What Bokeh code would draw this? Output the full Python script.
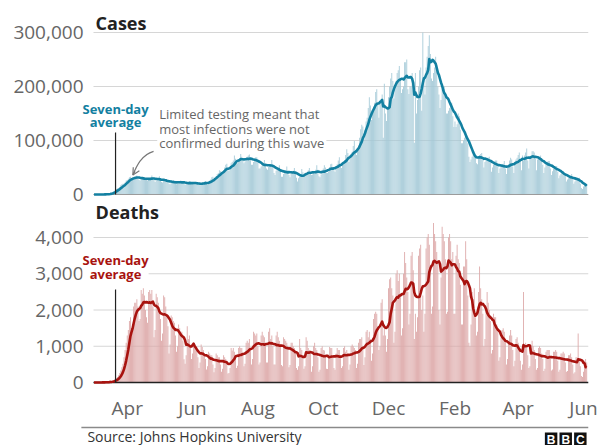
import numpy as np
import pandas as pd
from bokeh.plotting import figure
from bokeh.layouts import column
from bokeh.models import (FixedTicker, Label, Arrow, OpenHead, Range1d, ColumnDataSource)
from bokeh.embed import file_html
from bokeh.resources import INLINE
from bokeh.core.properties import value

# ---------------- DATA ----------------
start_date = "2020-03-01"

# daily reported cases (thousands), one row per week (Sun..Sat)
cases_thousands = [
    0.0, 0.0, 0.0, 0.0, 0.1, 0.1, 0.1,
    0.1, 0.2, 0.3, 0.4, 0.5, 0.7, 0.9,
    1.2, 1.8, 2.6, 4.5, 5.5, 7.0, 9.0,
    10, 11, 12, 14, 17, 19, 20,
    20, 22, 26, 27, 29, 32, 33,
    27, 30, 31, 32, 33, 35, 32,
    27, 26, 29, 30, 30, 32, 30,
    27, 26, 28, 29, 31, 35, 32,
    27, 23, 25, 28, 30, 34, 29,
    23, 22, 24, 25, 28, 28, 26,
    20, 19, 22, 21, 27, 25, 24,
    19, 21, 21, 22, 26, 24, 24,
    20, 18, 19, 19, 23, 25, 24,
    19, 19, 20, 20, 21, 23, 22,
    18, 17, 19, 21, 23, 24, 25,
    19, 18, 23, 26, 28, 32, 33,
    27, 31, 34, 38, 40, 45, 43,
    40, 42, 45, 50, 55, 57, 45,
    44, 48, 58, 60, 63, 72, 66,
    60, 58, 62, 67, 75, 70, 64,
    58, 61, 64, 70, 72, 74, 67,
    55, 55, 60, 67, 69, 69, 60,
    48, 48, 52, 54, 58, 64, 58,
    48, 46, 51, 55, 53, 64, 54,
    40, 36, 44, 46, 48, 54, 46,
    33, 33, 38, 45, 43, 52, 43,
    36, 32, 38, 42, 44, 49, 42,
    31, 24, 30, 34, 37, 47, 41,
    34, 34, 38, 40, 45, 49, 42,
    36, 37, 40, 39, 46, 54, 46,
    34, 32, 37, 45, 48, 54, 50,
    40, 40, 42, 51, 56, 57, 49,
    45, 42, 51, 56, 63, 69, 56,
    49, 57, 61, 64, 73, 84, 77,
    60, 67, 74, 79, 90, 99, 82,
    73, 85, 91, 105, 121, 129, 126,
    102, 120, 135, 142, 160, 180, 165,
    138, 154, 163, 170, 190, 195, 168,
    142, 170, 175, 185, 105, 205, 150,
    136, 158, 180, 200, 215, 225, 210,
    178, 195, 210, 225, 230, 238, 215,
    188, 195, 200, 245, 245, 250, 195,
    186, 200, 200, 225, 192, 96, 225,
    150, 175, 200, 230, 235, 155, 300,
    210, 185, 235, 255, 275, 295, 260,
    215, 210, 225, 235, 255, 240, 200,
    185, 160, 175, 195, 200, 200, 180,
    150, 150, 155, 160, 170, 170, 145,
    125, 135, 125, 130, 150, 145, 120,
    95, 95, 100, 105, 115, 110, 95,
    70, 60, 65, 70, 78, 80, 72,
    58, 56, 67, 73, 75, 77, 64,
    50, 60, 62, 68, 68, 70, 60,
    42, 50, 55, 58, 63, 63, 52,
    40, 48, 52, 56, 57, 62, 48,
    38, 50, 55, 63, 68, 65, 52,
    40, 60, 65, 68, 73, 78, 62,
    45, 72, 62, 72, 78, 85, 63,
    48, 68, 70, 80, 80, 78, 66,
    45, 65, 66, 68, 72, 65, 55,
    40, 50, 58, 60, 62, 62, 48,
    36, 43, 47, 52, 52, 53, 42,
    30, 35, 38, 40, 42, 40, 35,
    24, 28, 30, 32, 35, 38, 30,
    20, 24, 27, 27, 29, 31, 20,
    12, 10, 15, 20, 18, 17,
]

# daily reported deaths, one row per week (Sun..Sat)
deaths_daily = [
    0, 1, 1, 2, 3, 2, 3,
    4, 5, 8, 9, 10, 12, 15,
    15, 25, 30, 45, 55, 65, 90,
    115, 150, 200, 260, 330, 420, 520,
    700, 900, 1100, 1300, 1450, 1700, 1800,
    1500, 1600, 2100, 2200, 2200, 2300, 2100,
    1700, 1750, 2550, 2450, 2600, 2400, 2000,
    1800, 1650, 2500, 2550, 2450, 2550, 2100,
    1250, 1450, 2450, 2350, 2200, 1950, 1750,
    1150, 1350, 2400, 2350, 2100, 1850, 1550,
    800, 1050, 1850, 1800, 1700, 1650, 1300,
    850, 1000, 1600, 1500, 1350, 1400, 1150,
    640, 520, 750, 1550, 1200, 1300, 1000,
    650, 800, 1000, 1050, 950, 950, 700,
    400, 550, 1050, 980, 900, 750, 650,
    360, 450, 850, 800, 750, 750, 500,
    280, 400, 800, 750, 700, 700, 500,
    300, 380, 750, 700, 650, 600, 250,
    260, 400, 950, 880, 950, 850, 700,
    400, 460, 950, 1000, 950, 950, 800,
    450, 520, 1100, 1150, 1100, 1200, 950,
    500, 650, 1400, 1350, 1300, 1350, 1000,
    500, 550, 1300, 1400, 1300, 1250, 1100,
    550, 550, 1400, 1500, 1200, 1300, 1000,
    500, 500, 1300, 1400, 1250, 1150, 1050,
    480, 450, 1250, 1200, 1150, 1100, 1000,
    420, 480, 1100, 1100, 1000, 950, 800,
    400, 350, 450, 1200, 950, 900, 700,
    380, 450, 1250, 1150, 950, 900, 800,
    300, 450, 1000, 1100, 950, 900, 700,
    300, 350, 950, 1000, 900, 880, 700,
    380, 370, 700, 980, 950, 950, 700,
    400, 350, 800, 950, 900, 900, 700,
    400, 450, 950, 1000, 850, 900, 800,
    350, 500, 1000, 1050, 1000, 950, 900,
    400, 520, 1100, 1200, 1200, 1250, 1000,
    480, 700, 1400, 1450, 1250, 1400, 1200,
    600, 800, 1750, 1900, 1950, 1900, 1500,
    900, 1000, 2200, 2300, 1300, 1600, 1300,
    850, 1200, 2600, 2850, 2900, 2600, 2400,
    1100, 1400, 3000, 3100, 2800, 3000, 2400,
    1300, 1500, 3000, 3600, 3300, 2900, 2500,
    1600, 1900, 3500, 3600, 3100, 1200, 1900,
    1400, 1800, 3500, 3700, 3800, 2000, 2400,
    1400, 1900, 3700, 4000, 4100, 3800, 3100,
    1900, 2100, 4400, 4100, 3900, 3600, 3300,
    2000, 1600, 2900, 4300, 4100, 3900, 3400,
    1900, 1950, 4000, 4100, 3900, 3400, 3600,
    1900, 1900, 3500, 3800, 3400, 3300, 2700,
    1600, 1600, 3200, 3200, 3900, 3400, 2400,
    1100, 1000, 1600, 2500, 2300, 2600, 1800,
    1300, 1400, 2500, 3200, 2600, 2300, 1900,
    1000, 1200, 2000, 2500, 2200, 2000, 1700,
    800, 900, 1900, 1800, 1800, 1600, 1400,
    600, 700, 1300, 1450, 1500, 1400, 1100,
    500, 650, 1100, 1300, 1450, 1300, 900,
    450, 600, 1200, 1250, 1100, 950, 600,
    350, 500, 2500, 1000, 1100, 950, 750,
    400, 450, 950, 1150, 1000, 900, 650,
    350, 400, 950, 1000, 950, 800, 650,
    320, 380, 850, 900, 900, 900, 650,
    330, 360, 850, 850, 900, 850, 600,
    300, 350, 800, 800, 850, 800, 550,
    300, 320, 750, 750, 800, 700, 500,
    250, 280, 700, 700, 1350, 650, 450,
    180, 150, 300, 600, 650, 550,
]

case_ticks = [0, 100000, 200000, 300000]
death_ticks = [0, 1000, 2000, 3000, 4000]
month_ticks = ["2020-04-01", "2020-06-01", "2020-08-01", "2020-10-01",
               "2020-12-01", "2021-02-01", "2021-04-01", "2021-06-01"]
month_labels = ["Apr", "Jun", "Aug", "Oct", "Dec", "Feb", "Apr", "Jun"]

# ---------------- STYLE ----------------
FONT = "Open Sans"
CASE_BAR = "#a3c9d7"
CASE_LINE = "#1380a1"
DEATH_BAR = "#dca6a6"
DEATH_LINE = "#a8130f"
GRID = "#d6d6d6"
TICK_TXT = "#666666"
DAY_MS = 86400000


def ts(s):
    return pd.Timestamp(s)


case_dates = pd.date_range(start_date, periods=len(cases_thousands), freq="D")
death_dates = pd.date_range(start_date, periods=len(deaths_daily), freq="D")
cases = np.array(cases_thousands, dtype=float) * 1000
deaths = np.array(deaths_daily, dtype=float)
cases_avg = pd.Series(cases).rolling(7, min_periods=1).mean().values
deaths_avg = pd.Series(deaths).rolling(7, min_periods=1).mean().values

src_c = ColumnDataSource(dict(x=case_dates, y=cases, avg=cases_avg))
src_d = ColumnDataSource(dict(x=death_dates, y=deaths, avg=deaths_avg))

# one frame holds both panels: cases on the main y range (upper part),
# deaths on an extra y range (lower part)
C_MIN, C_MAX = -355556, 333333
D_MIN, D_MAX = -110, 10152
x_range = Range1d(start=ts("2020-02-11 18:15"), end=ts("2021-06-05 16:00"))
grid_x0 = ts("2020-02-29 12:00")
grid_x1 = ts("2021-06-05 16:00")

p = figure(frame_width=514, frame_height=372, x_axis_type="datetime",
           x_range=x_range, y_range=Range1d(C_MIN, C_MAX),
           output_backend="svg", toolbar_location=None,
           min_border_left=74, min_border_right=10,
           min_border_top=14, min_border_bottom=38)
p.extra_y_ranges = {"deaths": Range1d(D_MIN, D_MAX)}
p.grid.visible = False
p.outline_line_color = None
p.background_fill_color = "white"
p.border_fill_color = "white"


def death_pos(d):
    """position of a deaths value expressed on the main (cases) scale"""
    return int(round(C_MIN + (d - D_MIN) / (D_MAX - D_MIN) * (C_MAX - C_MIN)))


# y axis: cases ticks plus deaths ticks (labels from each series' own scale)
ytick_pos = case_ticks + [death_pos(d) for d in death_ticks]
ytick_lab = [f"{v:,}" for v in case_ticks] + [f"{v:,}" for v in death_ticks]
ya = p.yaxis[0]
ya.ticker = FixedTicker(ticks=ytick_pos)
ya.major_label_overrides = {t: lab for t, lab in zip(ytick_pos, ytick_lab)}
ya.axis_line_color = None
ya.major_tick_line_color = None
ya.minor_tick_line_color = None
ya.major_tick_out = 0
ya.major_tick_in = 0
ya.major_label_text_font = FONT
ya.major_label_text_font_size = "19px"
ya.major_label_text_color = TICK_TXT
ya.major_label_standoff = -9

xa = p.xaxis[0]
tick_ms = [int(ts(d).value // 10**6) for d in month_ticks]
xa.ticker = FixedTicker(ticks=tick_ms)
xa.major_label_overrides = {t: lab for t, lab in zip(tick_ms, month_labels)}
xa.axis_line_color = None
xa.major_tick_line_color = None
xa.minor_tick_line_color = None
xa.major_tick_out = 0
xa.major_tick_in = 0
xa.major_label_text_font = FONT
xa.major_label_text_font_size = "19px"
xa.major_label_text_color = TICK_TXT
xa.major_label_standoff = 8

# gridlines over the plotted period
p.segment(x0=[grid_x0] * len(case_ticks), x1=[grid_x1] * len(case_ticks),
          y0=case_ticks, y1=case_ticks, line_color=GRID, line_width=1)
p.segment(x0=[grid_x0] * len(death_ticks), x1=[grid_x1] * len(death_ticks),
          y0=death_ticks, y1=death_ticks, line_color=GRID, line_width=1,
          y_range_name="deaths")

# ---------------- CASES ----------------
p.vbar(x="x", top="y", width=0.8 * DAY_MS, source=src_c,
       fill_color=CASE_BAR, line_color=None)
p.segment(x0=[grid_x0], x1=[grid_x1], y0=[0], y1=[0], line_color="#9a9a9a", line_width=1)
p.line(x="x", y="avg", source=src_c, line_color=CASE_LINE, line_width=2.6,
       line_join="round")

p.add_layout(Label(x=ts("2020-03-02 10:00"), y=318500, text="Cases",
                   text_font=FONT, text_font_style="bold", text_font_size="18px",
                   text_color="#222222", text_baseline="middle", text_align="left"))
p.segment(x0=[ts("2020-03-21 02:00")], y0=[0], x1=[ts("2020-03-21 02:00")], y1=[114800],
          line_color="#222222", line_width=1.2)
p.add_layout(Label(x=ts("2020-03-21 02:00"), y=175500, text="Seven-day\naverage",
                   text_font=FONT, text_font_style="bold", text_font_size="13px",
                   text_color=CASE_LINE, text_align="center", text_baseline="top",
                   text_line_height=0.74))
p.add_layout(Label(x=ts("2020-04-29"), y=168700,
                   text="Limited testing meant that\nmost infections were not\nconfirmed during this wave",
                   text_font=FONT, text_font_size="13px", text_color="#666666",
                   text_align="left", text_baseline="top", text_line_height=0.79,
                   background_fill_color="white", padding=2))
p.bezier(x0=[ts("2020-04-25 14:00")], y0=[80000], x1=[ts("2020-04-06 06:00")], y1=[36000],
         cx0=[ts("2020-04-14 10:00")], cy0=[74000], cx1=[ts("2020-04-09 12:00")], cy1=[52000],
         line_color="#777777", line_width=1.2)
p.add_layout(Arrow(end=OpenHead(size=7, line_color="#777777", line_width=1.2),
                   x_start=ts("2020-04-08 06:00"), y_start=43000,
                   x_end=ts("2020-04-06 06:00"), y_end=36000,
                   line_color="#777777", line_width=1.2))

# ---------------- DEATHS ----------------
p.vbar(x="x", top="y", width=0.8 * DAY_MS, source=src_d,
       fill_color=DEATH_BAR, line_color=None, y_range_name="deaths")
p.segment(x0=[grid_x0], x1=[grid_x1], y0=[0], y1=[0], line_color="#222222", line_width=1.5,
          y_range_name="deaths")
p.line(x="x", y="avg", source=src_d, line_color=DEATH_LINE, line_width=2.6,
       line_join="round", y_range_name="deaths")

p.add_layout(Label(x=ts("2020-03-02 10:00"), y=4690, text="Deaths", y_range_name="deaths",
                   text_font=FONT, text_font_style="bold", text_font_size="18px",
                   text_color="#222222", text_baseline="middle", text_align="left"))
p.segment(x0=[ts("2020-03-21 02:00")], y0=[0], x1=[ts("2020-03-21 02:00")], y1=[2565],
          line_color="#222222", line_width=1.2, y_range_name="deaths")
p.add_layout(Label(x=ts("2020-03-21 02:00"), y=3620, text="Seven-day\naverage",
                   y_range_name="deaths",
                   text_font=FONT, text_font_style="bold", text_font_size="13px",
                   text_color=DEATH_LINE, text_align="center", text_baseline="top",
                   text_line_height=0.74, background_fill_color="white", padding=0))

# ---------------- FOOTER ----------------
FH = 21
pf = figure(width=598, height=FH, x_range=Range1d(0, 598), y_range=Range1d(FH, 0),
            output_backend="svg", toolbar_location=None, min_border=0)
pf.axis.visible = False
pf.grid.visible = False
pf.outline_line_color = None
pf.segment(x0=[8], y0=[3], x1=[598], y1=[3], line_color="#8a8a8a", line_width=1.5)
pf.text(x=[15], y=[11.5], text=["Source: Johns Hopkins University"],
        text_font=value(FONT), text_font_size="14px", text_color="#333333",
        text_baseline="middle", text_align="left")
pf.rect(x=[554.5, 571.5, 588.5], y=[14.5, 14.5, 14.5], width=14.5, height=13,
        fill_color="#111111", line_color=None)
pf.text(x=[554.5, 571.5, 588.5], y=[15, 15, 15], text=["B", "B", "C"],
        text_font=value("Liberation Sans"), text_font_style="bold", text_font_size="12px",
        text_color="white", text_baseline="middle", text_align="center")

layout = column(p, pf, spacing=0)
open("out.html", "w").write(file_html(layout, INLINE))
